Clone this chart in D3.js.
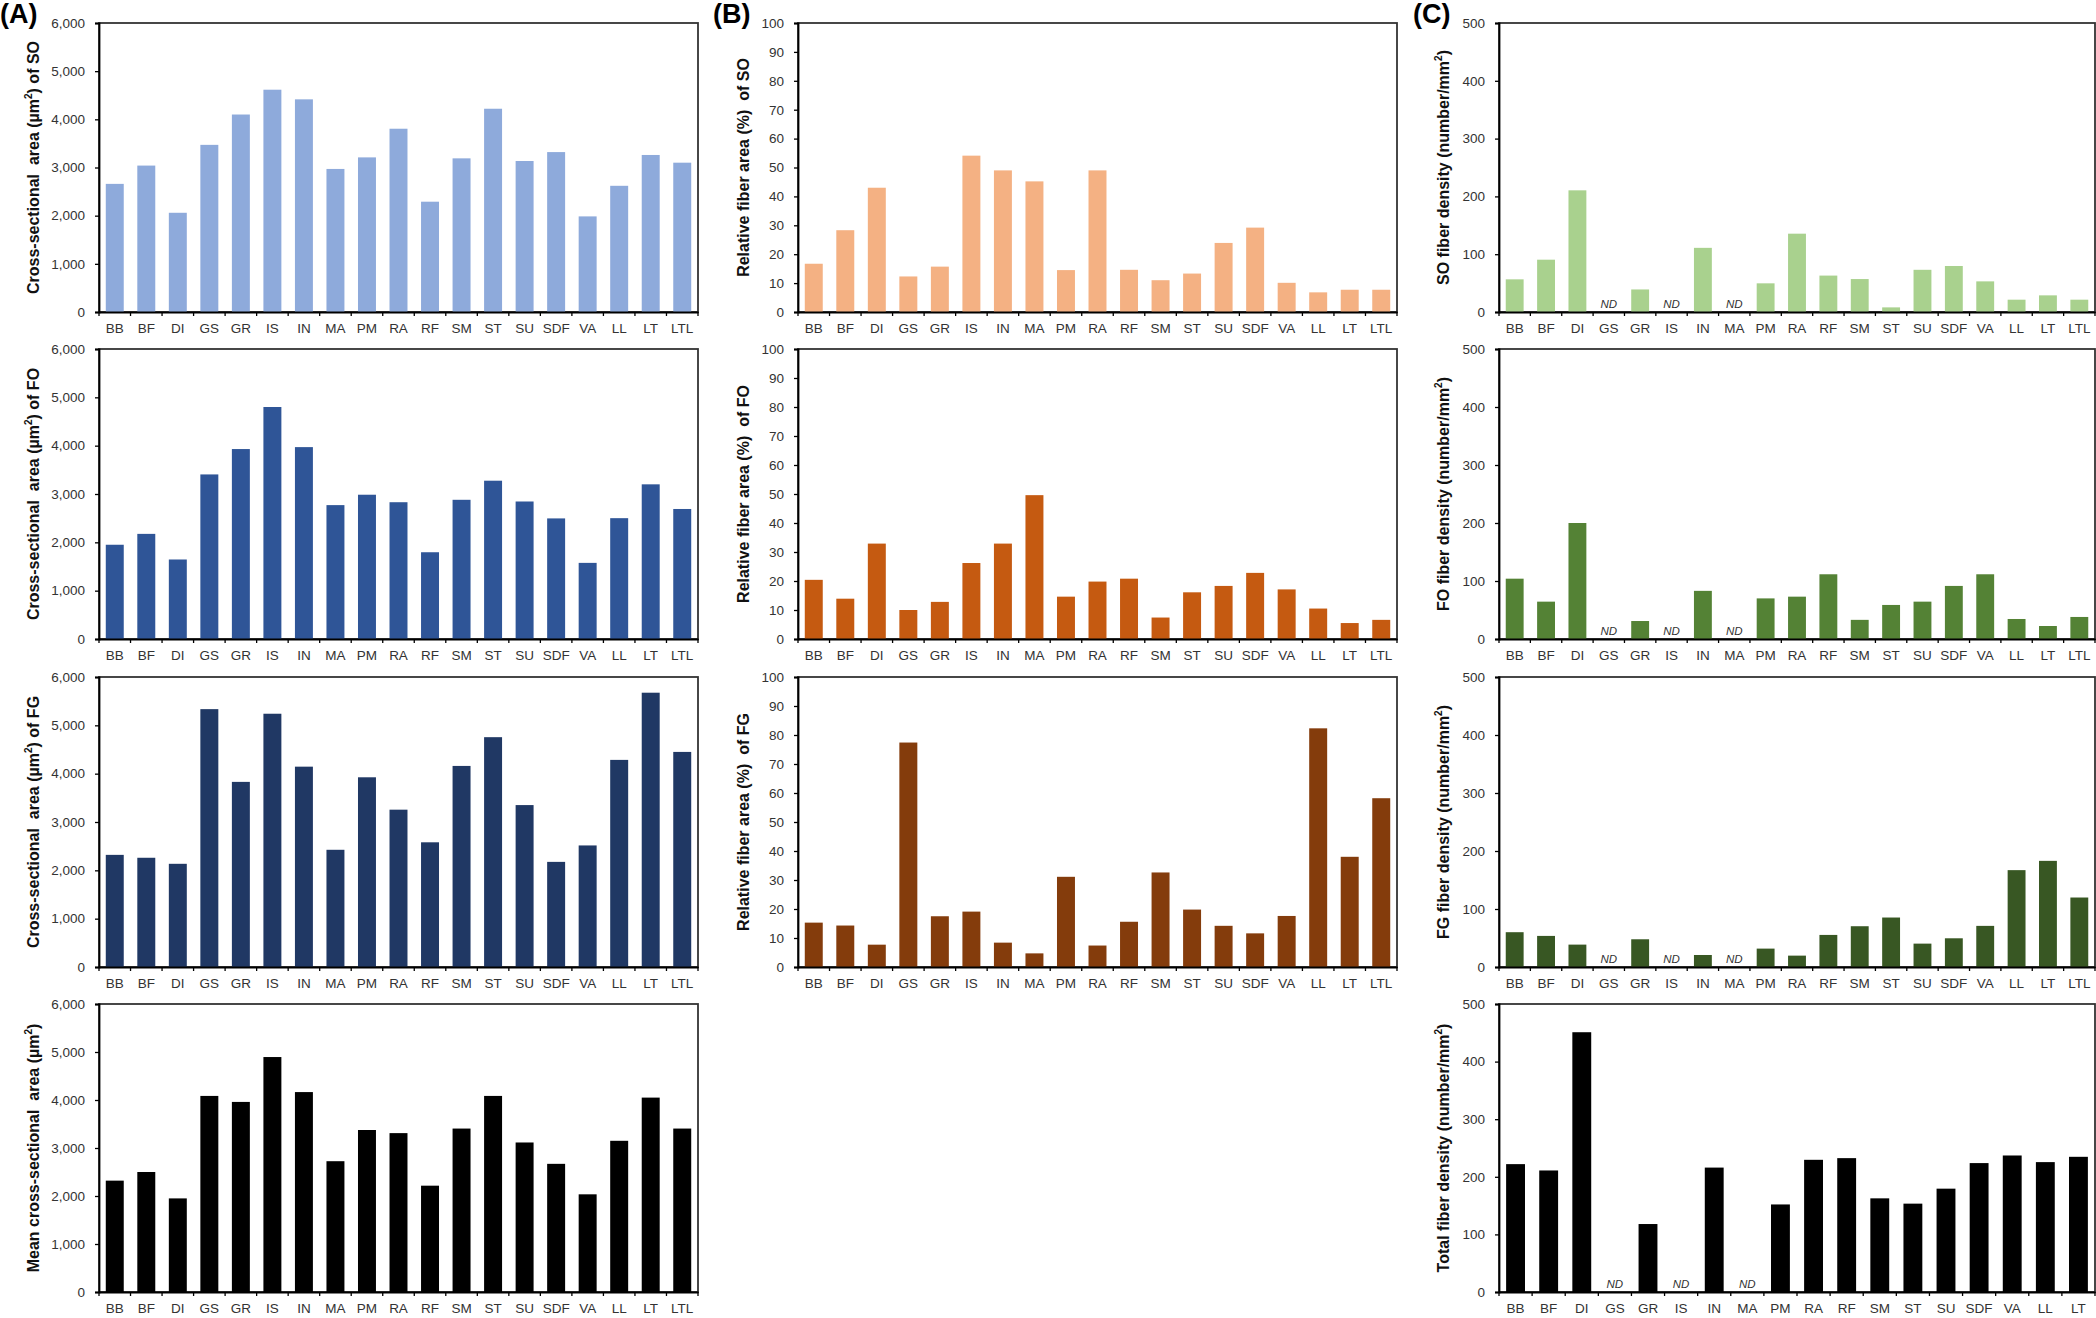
<!DOCTYPE html>
<html>
<head>
<meta charset="utf-8">
<script src="https://cdn.jsdelivr.net/npm/d3@7"></script>
<style>
  html, body { margin: 0; padding: 0; background: #fff; }
  svg { display: block; font-family: "Liberation Sans", Arial, sans-serif; }
  .ytitle { white-space: pre; }
</style>
</head>
<body>
<svg id="chart" width="2096" height="1318"></svg>
<script>
// ---------------- DATA ----------------
const categories = ["BB","BF","DI","GS","GR","IS","IN","MA","PM","RA","RF","SM","ST","SU","SDF","VA","LL","LT","LTL"];
const categoriesTotal = ["BB","BF","DI","GS","GR","IS","IN","MA","PM","RA","RF","SM","ST","SU","SDF","VA","LL","LT"];

// (A) cross-sectional area (µm²)
const csaSO   = [2660,3040,2060,3470,4100,4615,4415,2970,3210,3805,2290,3190,4220,3135,3320,1985,2620,3260,3100];
const csaFO   = [1950,2175,1645,3405,3930,4800,3970,2770,2985,2830,1795,2880,3275,2845,2495,1575,2500,3200,2690];
const csaFG   = [2320,2260,2135,5335,3830,5240,4145,2425,3925,3255,2580,4160,4755,3350,2175,2515,4285,5675,4450];
const csaMean = [2320,2500,1950,4085,3960,4895,4165,2725,3375,3310,2215,3405,4085,3115,2670,2035,3150,4050,3405];

// (B) relative fiber area (%)
const relSO = [16.7,28.3,43.0,12.3,15.7,54.1,49.0,45.2,14.5,49.0,14.6,11.0,13.3,23.9,29.2,10.1,6.8,7.7,7.7];
const relFO = [20.4,13.9,32.9,10.0,12.8,26.2,32.9,49.6,14.6,19.8,20.8,7.4,16.1,18.3,22.8,17.1,10.5,5.5,6.6];
const relFG = [15.3,14.3,7.7,77.4,17.5,19.1,8.4,4.7,31.1,7.4,15.6,32.6,19.8,14.2,11.6,17.6,82.3,38.0,58.2];

// (C) fiber density (number/mm²); null = ND
const densSO    = [56.5,90.5,210.5,null,39,null,111,null,49.6,135.5,63,57,8,73,79.6,53,21.3,28.8,21.3];
const densFO    = [104,64.4,200,null,31,null,83,null,70,73,111.6,33,58.7,64.4,91.5,111.6,34.5,22.4,38];
const densFG    = [60,53.6,38.6,null,47.8,null,20.7,null,31.7,19.6,55.3,70.3,85.3,40.3,49.5,70.9,167,183,119.8];
const densTotal = [222,211,451,null,118,null,216,null,152,229.5,232.4,162.6,153.4,179.4,223.8,237,225.5,234.7];

const ticksA = [0,1000,2000,3000,4000,5000,6000];
const ticksB = [0,10,20,30,40,50,60,70,80,90,100];
const ticksC = [0,100,200,300,400,500];

const ndLabel = "ND";

// ---------------- LAYOUT ----------------
const svg = d3.select("#chart");
const cols = { A: [99, 698], B: [798, 1397], C: [1499, 2095] };
const rows = [[23, 312], [349, 639], [677, 967], [1004, 1292]];
const fmtComma = d3.format(",");
const fmtPlain = d3.format("d");

const panels = [
  { col: "A", row: 0, cats: categories, vals: csaSO,   ticks: ticksA, fmt: fmtComma, color: "#8eaadb", title: ["Cross-sectional  area (µm", "2", ") of SO"] },
  { col: "A", row: 1, cats: categories, vals: csaFO,   ticks: ticksA, fmt: fmtComma, color: "#2f5597", title: ["Cross-sectional  area (µm", "2", ") of FO"] },
  { col: "A", row: 2, cats: categories, vals: csaFG,   ticks: ticksA, fmt: fmtComma, color: "#203864", title: ["Cross-sectional  area (µm", "2", ") of FG"] },
  { col: "A", row: 3, cats: categories, vals: csaMean, ticks: ticksA, fmt: fmtComma, color: "#000000", title: ["Mean cross-sectional  area (µm", "2", ")"] },
  { col: "B", row: 0, cats: categories, vals: relSO,   ticks: ticksB, fmt: fmtPlain, color: "#f4b183", title: ["Relative fiber area (%)  of SO", "", ""] },
  { col: "B", row: 1, cats: categories, vals: relFO,   ticks: ticksB, fmt: fmtPlain, color: "#c55a11", title: ["Relative fiber area (%)  of FO", "", ""] },
  { col: "B", row: 2, cats: categories, vals: relFG,   ticks: ticksB, fmt: fmtPlain, color: "#843c0c", title: ["Relative fiber area (%)  of FG", "", ""] },
  { col: "C", row: 0, cats: categories, vals: densSO,  ticks: ticksC, fmt: fmtPlain, color: "#a9d18e", title: ["SO fiber density (number/mm", "2", ")"] },
  { col: "C", row: 1, cats: categories, vals: densFO,  ticks: ticksC, fmt: fmtPlain, color: "#548235", title: ["FO fiber density (number/mm", "2", ")"] },
  { col: "C", row: 2, cats: categories, vals: densFG,  ticks: ticksC, fmt: fmtPlain, color: "#385723", title: ["FG fiber density (number/mm", "2", ")"] },
  { col: "C", row: 3, cats: categoriesTotal, vals: densTotal, ticks: ticksC, fmt: fmtPlain, color: "#000000", title: ["Total fiber density (number/mm", "2", ")"] }
];

const titleOffset = { A: 64, B: 53, C: 54 };
const labelFont = "\"Liberation Sans\", Arial, sans-serif";

panels.forEach(p => {
  const [x0, x1] = cols[p.col];
  const [yTop, yZero] = rows[p.row];
  const g = svg.append("g");

  const x = d3.scaleBand().domain(p.cats).range([x0, x1]).paddingInner(0.43).paddingOuter(0.215);
  const y = d3.scaleLinear().domain([p.ticks[0], p.ticks[p.ticks.length - 1]]).range([yZero, yTop]);

  // plot area frame (top & right)
  g.append("rect")
    .attr("x", x0).attr("y", yTop).attr("width", x1 - x0).attr("height", yZero - yTop)
    .attr("fill", "none").attr("stroke", "#333").attr("stroke-width", 1.8);

  // bars
  const data = p.cats.map((c, i) => ({ c, v: p.vals[i] }));
  g.selectAll("rect.bar").data(data.filter(d => d.v !== null)).enter()
    .append("rect").attr("class", "bar")
    .attr("x", d => x(d.c)).attr("width", x.bandwidth())
    .attr("y", d => y(d.v)).attr("height", d => y(0) - y(d.v))
    .attr("fill", p.color);

  // ND labels
  g.selectAll("text.nd").data(data.filter(d => d.v === null)).enter()
    .append("text").attr("class", "nd")
    .attr("x", d => x(d.c) + x.bandwidth() / 2).attr("y", y(0) - 4)
    .attr("text-anchor", "middle").attr("font-size", 11.5).attr("font-style", "italic")
    .attr("fill", "#333").text(ndLabel);

  // y axis
  const yAxis = d3.axisLeft(y).tickValues(p.ticks).tickFormat(p.fmt).tickSize(4).tickPadding(10);
  const ya = g.append("g").attr("transform", `translate(${x0},0)`).call(yAxis);
  ya.select(".domain").attr("stroke", "#000").attr("stroke-width", 1.8);
  ya.selectAll(".tick line").attr("stroke", "#000").attr("stroke-width", 1.3);
  ya.selectAll(".tick text").attr("font-size", 13.5).attr("fill", "#333").attr("font-family", labelFont);

  // x axis labels
  const xAxis = d3.axisBottom(x).tickSize(0).tickPadding(11);
  const xa = g.append("g").attr("transform", `translate(0,${yZero})`).call(xAxis);
  xa.select(".domain").attr("stroke", "#000").attr("stroke-width", 1.8);
  xa.selectAll(".tick text").attr("font-size", 13.5).attr("fill", "#333").attr("font-family", labelFont);
  const step = x.step();
  const bounds = d3.range(p.cats.length + 1).map(i => x0 + i * step);
  g.selectAll("line.xtick").data(bounds).enter().append("line")
    .attr("x1", d => d).attr("x2", d => d).attr("y1", yZero).attr("y2", yZero + 4)
    .attr("stroke", "#000").attr("stroke-width", 1.3);

  // y title
  const tx = x0 - titleOffset[p.col];
  const ty = (yTop + yZero) / 2;
  const t = g.append("text").attr("class", "ytitle")
    .attr("transform", `translate(${tx},${ty}) rotate(-90)`)
    .attr("text-anchor", "middle").attr("dominant-baseline", "middle")
    .attr("font-size", 16).attr("font-weight", "bold").attr("fill", "#111");
  t.append("tspan").text(p.title[0]);
  if (p.title[1]) {
    t.append("tspan").attr("font-size", 10).attr("dy", -6).text(p.title[1]);
    t.append("tspan").attr("dy", 6).text(p.title[2]);
  }
});

// panel letters
const letters = [{ t: "(A)", x: 0 }, { t: "(B)", x: 713 }, { t: "(C)", x: 1413 }];
svg.selectAll("text.letter").data(letters).enter().append("text")
  .attr("x", d => d.x).attr("y", 23)
  .attr("font-size", 27).attr("font-weight", "bold").attr("fill", "#000")
  .text(d => d.t);
</script>
</body>
</html>
